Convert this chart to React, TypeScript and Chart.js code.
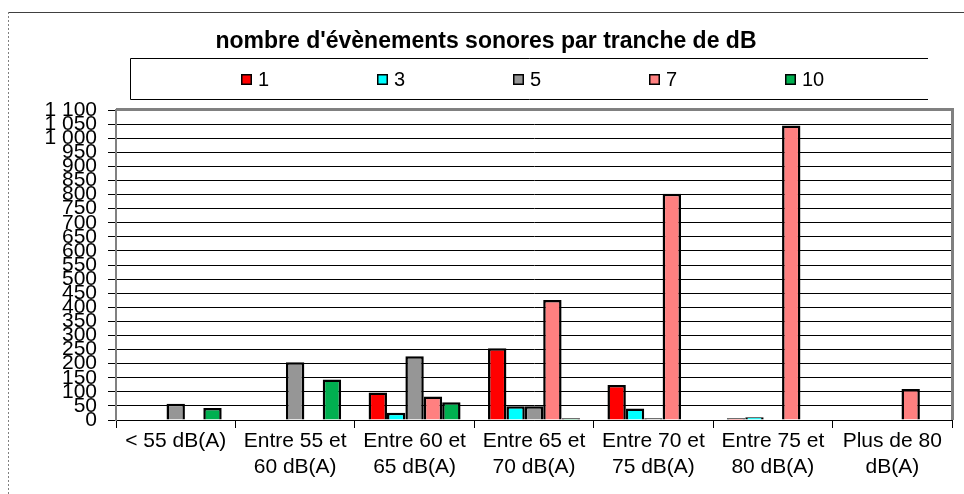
import React, { useEffect, useRef } from 'react';
import { Chart, registerables } from 'chart.js';

Chart.register(...registerables);

const chartTitle = "nombre d'évènements sonores par tranche de dB";
const categories: string[][] = [
  ['< 55 dB(A)'],
  ['Entre 55 et', '60 dB(A)'],
  ['Entre 60 et', '65 dB(A)'],
  ['Entre 65 et', '70 dB(A)'],
  ['Entre 70 et', '75 dB(A)'],
  ['Entre 75 et', '80 dB(A)'],
  ['Plus de 80', 'dB(A)'],
];
const seriesNames = ['1', '3', '5', '7', '10'];
const series1 = [0, 0, 98, 255, 124, 6, 0];
const series3 = [0, 0, 26, 49, 41, 10, 0];
const series5 = [58, 205, 226, 49, 6, 0, 0];
const series7 = [0, 0, 83, 426, 803, 1045, 110];
const series10 = [43, 144, 63, 6, 0, 0, 0];
const seriesColors = ['#FF0000', '#00FFFF', '#969696', '#FF8080', '#00B050'];
const yMin = 0;
const yMax = 1100;
const yStep = 50;

const FONT = '"Liberation Sans", Arial, sans-serif';

function fmt(v: number): string {
  if (v >= 1000) {
    const th = Math.floor(v / 1000);
    const rest = String(v % 1000).padStart(3, '0');
    return th + ' ' + rest;
  }
  return String(v);
}

const decorations = {
  id: 'decorations',
  afterDraw(chart: any) {
    const ctx: CanvasRenderingContext2D = chart.ctx;
    const area = chart.chartArea;
    ctx.save();
    // outer frame
    ctx.strokeStyle = '#404040';
    ctx.lineWidth = 1;
    ctx.beginPath();
    ctx.moveTo(8, 12.5);
    ctx.lineTo(964, 12.5);
    ctx.stroke();
    ctx.strokeStyle = '#808080';
    ctx.setLineDash([2, 2]);
    ctx.beginPath();
    ctx.moveTo(8.5, 12);
    ctx.lineTo(8.5, 494);
    ctx.stroke();
    ctx.setLineDash([]);

    // title
    ctx.fillStyle = '#000';
    ctx.font = 'bold 23px ' + FONT;
    ctx.textAlign = 'center';
    ctx.textBaseline = 'middle';
    ctx.fillText(chartTitle, 486, 42);

    // legend box
    ctx.strokeStyle = '#000';
    ctx.lineWidth = 1;
    ctx.beginPath();
    ctx.moveTo(928, 58.5);
    ctx.lineTo(130.5, 58.5);
    ctx.lineTo(130.5, 99.5);
    ctx.lineTo(928, 99.5);
    ctx.stroke();

    ctx.font = '20px ' + FONT;
    ctx.textAlign = 'left';
    chart.data.datasets.forEach((ds: any, i: number) => {
      const x = 241 + i * 136;
      const y = 79;
      ctx.fillStyle = ds.backgroundColor;
      ctx.fillRect(x, y - 5, 11, 11);
      ctx.strokeStyle = '#000';
      ctx.lineWidth = 1.5;
      ctx.strokeRect(x + 0.75, y - 4.25, 9.5, 9.5);
      ctx.fillStyle = '#000';
      ctx.fillText(ds.label, x + 17, y + 1);
    });

    // plot border top/right
    ctx.strokeStyle = '#808080';
    ctx.lineWidth = 3;
    ctx.beginPath();
    ctx.moveTo(area.left, area.top - 0.5);
    ctx.lineTo(area.right + 0.5, area.top - 0.5);
    ctx.lineTo(area.right + 0.5, area.bottom);
    ctx.stroke();
    ctx.restore();
  },
};

export default function App() {
  const ref = useRef<HTMLCanvasElement | null>(null);
  useEffect(() => {
    if (!ref.current) return;
    const all = [series1, series3, series5, series7, series10];
    const chart = new Chart(ref.current, {
      type: 'bar',
      data: {
        labels: categories,
        datasets: all.map((d, i) => ({
          label: seriesNames[i],
          data: d,
          backgroundColor: seriesColors[i],
          borderColor: '#000',
          borderWidth: 2.5,
          borderSkipped: 'bottom',
          barPercentage: 1,
          categoryPercentage: 0.77,
        })),
      },
      options: {
        animation: false,
        responsive: false,
        devicePixelRatio: 1,
        layout: { padding: { left: 0, right: 12, top: 110, bottom: 0 } },
        plugins: {
          legend: { display: false },
          title: { display: false },
          tooltip: { enabled: false },
        },
        scales: {
          x: {
            afterFit: (s: any) => { s.height = 74; },
            grid: { drawOnChartArea: false, drawTicks: true, tickLength: 8, color: '#000', offset: true },
            border: { color: '#000', width: 1 },
            ticks: {
              color: '#000',
              font: { family: FONT, size: 21, lineHeight: 1.2 },
              padding: 1,
              maxRotation: 0,
              autoSkip: false,
            },
          },
          y: {
            min: yMin,
            max: yMax,
            afterFit: (s: any) => { s.width = 116; },
            grid: { color: '#000', lineWidth: 1, tickLength: 8, drawTicks: true },
            border: { color: '#808080', width: 2 },
            ticks: {
              stepSize: yStep,
              autoSkip: false,
              color: '#000',
              padding: 11,
              font: { family: FONT, size: 21 },
              callback: (v: any) => fmt(Number(v)),
            },
          },
        },
      },
      plugins: [decorations],
    });
    return () => chart.destroy();
  }, []);
  return (
    <div style={{ position: 'fixed', left: 0, top: 0, width: 964, height: 494, background: '#fff' }}>
      <canvas ref={ref} width={964} height={494} />
    </div>
  );
}
